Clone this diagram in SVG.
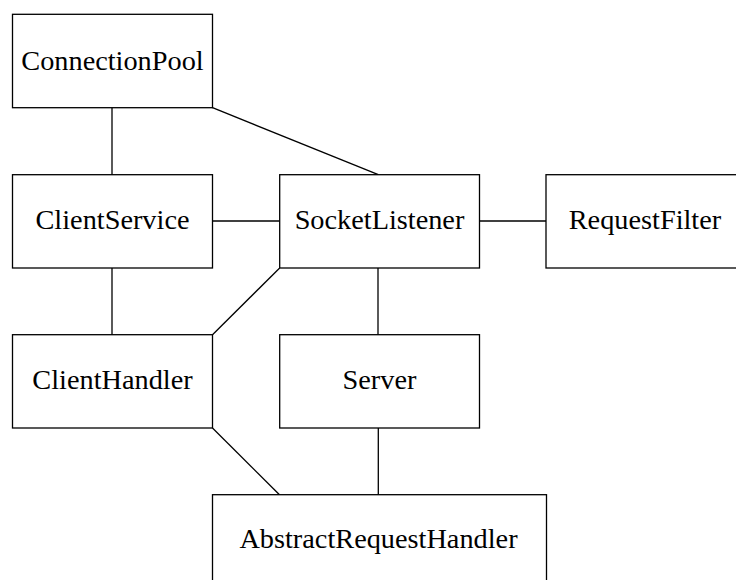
<svg xmlns="http://www.w3.org/2000/svg" width="736" height="580" viewBox="0 0 736 580">
<style>
.box{fill:#fff;stroke:#000;stroke-width:1.3}
.lbl{font-family:"Liberation Serif","Times New Roman",serif;font-size:28.3px;fill:#000;text-anchor:middle}
.edge{stroke:#000;stroke-width:1.3;fill:none}
</style>
<rect width="736" height="580" fill="#fff"/>
<g id="connectors">
<line class="edge" x1="112" y1="107.7" x2="112" y2="174.7"/>
<line class="edge" x1="212.5" y1="107.7" x2="378.3" y2="174.7"/>
<line class="edge" x1="212.5" y1="221" x2="279.7" y2="221"/>
<line class="edge" x1="479.5" y1="221" x2="546" y2="221"/>
<line class="edge" x1="112" y1="268" x2="112" y2="334.7"/>
<line class="edge" x1="279.7" y1="268" x2="212.5" y2="334.7"/>
<line class="edge" x1="378" y1="268" x2="378" y2="334.7"/>
<line class="edge" x1="212.5" y1="428" x2="279.5" y2="494.7"/>
<line class="edge" x1="378.3" y1="428" x2="378.3" y2="494.7"/>
</g>
<g id="ConnectionPool">
<rect class="box" x="12.5" y="14.3" width="200" height="93.4"/>
<text class="lbl" x="112.5" y="70">ConnectionPool</text>
</g>
<g id="ClientService">
<rect class="box" x="12.5" y="174.7" width="200" height="93.3"/>
<text class="lbl" x="112.5" y="229">ClientService</text>
</g>
<g id="SocketListener">
<rect class="box" x="279.7" y="174.7" width="199.8" height="93.3"/>
<text class="lbl" x="379.5" y="229">SocketListener</text>
</g>
<g id="RequestFilter">
<rect class="box" x="546" y="174.7" width="200" height="93.3"/>
<text class="lbl" x="645" y="228.5">RequestFilter</text>
</g>
<g id="ClientHandler">
<rect class="box" x="12.5" y="334.7" width="200" height="93.3"/>
<text class="lbl" x="112.5" y="389">ClientHandler</text>
</g>
<g id="Server">
<rect class="box" x="279.7" y="334.7" width="199.8" height="93.3"/>
<text class="lbl" x="379.5" y="389">Server</text>
</g>
<g id="AbstractRequestHandler">
<rect class="box" x="212.5" y="494.7" width="334" height="100"/>
<text class="lbl" x="378.5" y="547.5">AbstractRequestHandler</text>
</g>
</svg>
